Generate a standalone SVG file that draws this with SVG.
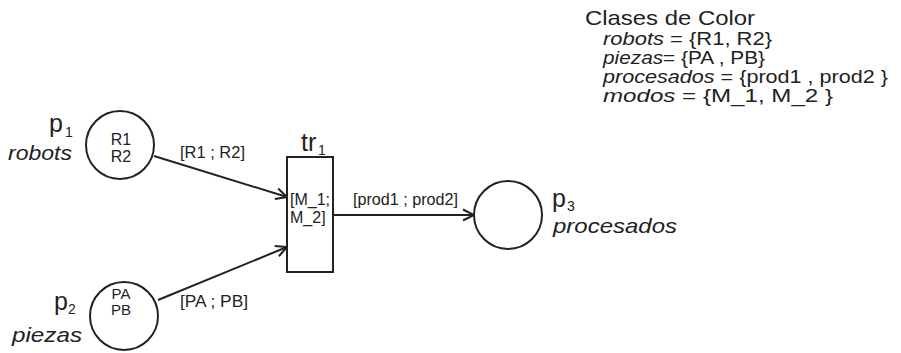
<svg xmlns="http://www.w3.org/2000/svg" width="901" height="353" viewBox="0 0 901 353">
<style>
text{font-family:"Liberation Sans",Arial,sans-serif;fill:#222}
.it{font-style:italic}
.big{font-size:25px}
.ital{font-size:21px;font-style:italic}
.sub{font-size:14px}
.lbl{font-size:16px}
.tok{font-size:16px;text-anchor:middle}
.leg{font-size:19px}
.node{fill:#fff;stroke:#222;stroke-width:2}
.arc{fill:none;stroke:#222;stroke-width:2;marker-end:url(#ah)}
</style>
<defs>
<marker id="ah" markerUnits="userSpaceOnUse" markerWidth="14" markerHeight="14" refX="12" refY="7" orient="auto">
<path d="M1,1.5 L12,7 L1,12.5" fill="none" stroke="#222" stroke-width="2"/>
</marker>
</defs>
<g id="connectors">
<line class="arc" x1="154" y1="156" x2="287" y2="197"/>
<line class="arc" x1="158" y1="300" x2="287" y2="247"/>
<line class="arc" x1="333" y1="215" x2="474" y2="215"/>
<text class="lbl" x="180" y="158" textLength="65" lengthAdjust="spacingAndGlyphs">[R1 ; R2]</text>
<text class="lbl" x="180" y="307" textLength="68" lengthAdjust="spacingAndGlyphs">[PA ; PB]</text>
<text class="lbl" x="353" y="205" textLength="105" lengthAdjust="spacingAndGlyphs">[prod1 ; prod2]</text>
</g>
<g id="p1">
<circle class="node" cx="120" cy="145" r="34"/>
<text class="tok" x="121" y="145">R1</text>
<text class="tok" x="121" y="162">R2</text>
<text class="big" x="49" y="132">p</text><text class="sub" x="65" y="137">1</text>
<text class="ital" x="8" y="160" textLength="64" lengthAdjust="spacingAndGlyphs">robots</text>
</g>
<g id="p2">
<circle class="node" cx="124" cy="316" r="34"/>
<text class="tok" x="121" y="299" style="font-size:15px">PA</text>
<text class="tok" x="121" y="315" style="font-size:15px">PB</text>
<text class="big" x="54" y="310">p</text><text class="sub" x="68" y="314">2</text>
<text class="ital" x="12" y="342" textLength="70" lengthAdjust="spacingAndGlyphs">piezas</text>
</g>
<g id="tr1">
<rect class="node" x="287" y="157" width="46" height="115"/>
<text class="lbl" x="290" y="205">[M_1;</text>
<text class="lbl" x="290" y="223">M_2]</text>
<text class="big" x="301" y="151">tr</text><text class="sub" x="318" y="155">1</text>
</g>
<g id="p3">
<circle class="node" cx="508" cy="215" r="34"/>
<text class="big" x="552" y="207">p</text><text class="sub" x="567" y="211">3</text>
<text class="ital" x="553" y="233" textLength="124" lengthAdjust="spacingAndGlyphs">procesados</text>
</g>
<g id="legend">
<text class="leg" x="585" y="25" style="font-size:21px" textLength="170" lengthAdjust="spacingAndGlyphs">Clases de Color</text>
<text class="leg" x="603" y="45" textLength="169" lengthAdjust="spacingAndGlyphs"><tspan class="it">robots</tspan> = {R1, R2}</text>
<text class="leg" x="603" y="64" textLength="162" lengthAdjust="spacingAndGlyphs"><tspan class="it">piezas</tspan>= {PA , PB}</text>
<text class="leg" x="603" y="83" textLength="285" lengthAdjust="spacingAndGlyphs"><tspan class="it">procesados</tspan> = {prod1 , prod2 }</text>
<text class="leg" x="603" y="102" textLength="230" lengthAdjust="spacingAndGlyphs"><tspan class="it">modos</tspan> = {M_1, M_2 }</text>
</g>
</svg>
